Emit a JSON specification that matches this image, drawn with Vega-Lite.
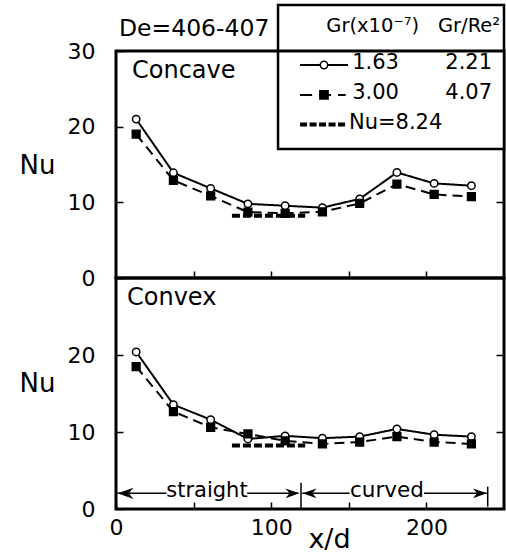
{
  "$schema": "https://vega.github.io/schema/vega-lite/v6.json",
  "padding": {"left": 17, "top": 2, "right": 2, "bottom": 0},
  "spacing": 0,
  "bounds": "flush",
  "config": {
    "font": "DejaVu Sans",
    "concat": {"spacing": 0},
    "view": {"stroke": "black", "strokeWidth": 3},
    "axis": {"domain": false, "grid": false, "tickColor": "black", "tickWidth": 1.5, "labelColor": "black", "titleColor": "black", "labelFontSize": 22, "titleFontWeight": "normal", "labelFlush": false, "labelFont": "DejaVu Sans", "titleFont": "DejaVu Sans"},
    "text": {"color": "black", "font": "DejaVu Sans"}
  },
  "datasets": {
    "concave": [
      {"x": 13, "nu": 21.0, "series": "1.63"}, {"x": 37, "nu": 13.9, "series": "1.63"}, {"x": 61, "nu": 11.85, "series": "1.63"}, {"x": 85, "nu": 9.8, "series": "1.63"}, {"x": 109, "nu": 9.55, "series": "1.63"}, {"x": 133, "nu": 9.3, "series": "1.63"}, {"x": 157, "nu": 10.45, "series": "1.63"}, {"x": 181, "nu": 13.95, "series": "1.63"}, {"x": 205, "nu": 12.5, "series": "1.63"}, {"x": 229, "nu": 12.2, "series": "1.63"},
      {"x": 13, "nu": 19.0, "series": "3.00"}, {"x": 37, "nu": 12.9, "series": "3.00"}, {"x": 61, "nu": 10.85, "series": "3.00"}, {"x": 85, "nu": 8.7, "series": "3.00"}, {"x": 109, "nu": 8.55, "series": "3.00"}, {"x": 133, "nu": 8.75, "series": "3.00"}, {"x": 157, "nu": 9.85, "series": "3.00"}, {"x": 181, "nu": 12.4, "series": "3.00"}, {"x": 205, "nu": 11.05, "series": "3.00"}, {"x": 229, "nu": 10.75, "series": "3.00"}
    ],
    "convex": [
      {"x": 13, "nu": 20.4, "series": "1.63"}, {"x": 37, "nu": 13.55, "series": "1.63"}, {"x": 61, "nu": 11.6, "series": "1.63"}, {"x": 85, "nu": 9.1, "series": "1.63"}, {"x": 109, "nu": 9.5, "series": "1.63"}, {"x": 133, "nu": 9.2, "series": "1.63"}, {"x": 157, "nu": 9.4, "series": "1.63"}, {"x": 181, "nu": 10.4, "series": "1.63"}, {"x": 205, "nu": 9.65, "series": "1.63"}, {"x": 229, "nu": 9.4, "series": "1.63"},
      {"x": 13, "nu": 18.5, "series": "3.00"}, {"x": 37, "nu": 12.65, "series": "3.00"}, {"x": 61, "nu": 10.6, "series": "3.00"}, {"x": 85, "nu": 9.75, "series": "3.00"}, {"x": 109, "nu": 8.85, "series": "3.00"}, {"x": 133, "nu": 8.45, "series": "3.00"}, {"x": 157, "nu": 8.7, "series": "3.00"}, {"x": 181, "nu": 9.4, "series": "3.00"}, {"x": 205, "nu": 8.7, "series": "3.00"}, {"x": 229, "nu": 8.45, "series": "3.00"}
    ]
  },
  "vconcat": [
    {
      "width": 388,
      "height": 227,
      "resolve": {"axis": {"y": "independent"}},
      "layer": [
        {
          "data": {"name": "concave"},
          "mark": {"type": "line", "strokeWidth": 2, "color": "black"},
          "encoding": {
            "x": {"field": "x", "type": "quantitative", "scale": {"domain": [0, 250], "nice": false}, "axis": {"orient": "bottom", "values": [50, 100, 150, 200], "labels": false, "title": null, "tickSize": -7}},
            "y": {"field": "nu", "type": "quantitative", "scale": {"domain": [0, 30], "nice": false}, "axis": {"orient": "left", "values": [0, 10, 20, 30], "tickSize": -7, "labelPadding": 28, "title": "Nu", "titleAngle": 0, "titleX": -97, "titleY": 114, "titleAlign": "left", "titleBaseline": "middle", "titleFontSize": 26}},
            "strokeDash": {"field": "series", "type": "nominal", "scale": {"domain": ["1.63", "3.00"], "range": [[1, 0], [10, 6]]}, "legend": null}
          }
        },
        {
          "data": {"name": "concave"},
          "mark": {"type": "point", "filled": true, "stroke": "black", "strokeWidth": 1.5, "opacity": 1},
          "encoding": {
            "x": {"field": "x", "type": "quantitative"},
            "y": {"field": "nu", "type": "quantitative", "axis": null},
            "shape": {"field": "series", "type": "nominal", "scale": {"domain": ["1.63", "3.00"], "range": ["circle", "square"]}, "legend": null},
            "fill": {"field": "series", "type": "nominal", "scale": {"domain": ["1.63", "3.00"], "range": ["white", "black"]}, "legend": null},
            "size": {"field": "series", "type": "nominal", "scale": {"domain": ["1.63", "3.00"], "range": [55, 60]}, "legend": null}
          }
        },
        {
          "data": {"values": [{}]},
          "mark": {"type": "rule", "strokeWidth": 4, "strokeDash": [8, 3], "color": "black"},
          "encoding": {
            "x": {"datum": 74.7},
            "x2": {"datum": 121.9},
            "y": {"datum": 8.24, "type": "quantitative", "axis": {"orient": "right", "values": [10, 20], "labels": false, "title": null, "tickSize": -8, "minExtent": 0}}
          }
        },
        {
          "data": {"values": [{}]},
          "mark": {"type": "text", "text": "Concave", "fontSize": 24, "align": "left", "baseline": "middle"},
          "encoding": {"x": {"datum": 10.3}, "y": {"datum": 27.4, "axis": null}}
        },
        {
          "data": {"values": [{}]},
          "mark": {"type": "text", "text": "De=406-407", "fontSize": 23.5, "align": "left", "baseline": "middle"},
          "encoding": {"x": {"datum": 1.9}, "y": {"datum": 32.95, "axis": null}}
        },
        {
          "data": {"values": [{}]},
          "mark": {"type": "rect", "fill": "white", "stroke": "black", "strokeWidth": 2.5},
          "encoding": {"x": {"datum": 104.4}, "x2": {"datum": 250}, "y": {"datum": 17.05, "axis": null}, "y2": {"datum": 36.08}}
        },
        {
          "data": {"values": [{}]},
          "mark": {"type": "rule", "strokeWidth": 3, "color": "black"},
          "encoding": {"x": {"datum": 104.4}, "x2": {"datum": 250}, "y": {"datum": 30, "axis": null}}
        },
        {
          "data": {"values": [{}]},
          "mark": {"type": "rule", "strokeWidth": 2, "color": "black"},
          "encoding": {"x": {"datum": 118.6}, "x2": {"datum": 149.5}, "y": {"datum": 28.15, "axis": null}}
        },
        {
          "data": {"values": [{}]},
          "mark": {"type": "point", "shape": "circle", "filled": true, "fill": "white", "stroke": "black", "strokeWidth": 1.5, "size": 55, "opacity": 1},
          "encoding": {"x": {"datum": 134}, "y": {"datum": 28.15, "axis": null}}
        },
        {
          "data": {"values": [{}]},
          "mark": {"type": "rule", "strokeWidth": 2, "strokeDash": [12, 7], "color": "black"},
          "encoding": {"x": {"datum": 118.6}, "x2": {"datum": 148}, "y": {"datum": 24.2, "axis": null}}
        },
        {
          "data": {"values": [{}]},
          "mark": {"type": "point", "shape": "square", "filled": true, "fill": "black", "stroke": "black", "size": 60, "opacity": 1},
          "encoding": {"x": {"datum": 134}, "y": {"datum": 24.2, "axis": null}}
        },
        {
          "data": {"values": [{}]},
          "mark": {"type": "rule", "strokeWidth": 4, "strokeDash": [7, 2.5], "color": "black"},
          "encoding": {"x": {"datum": 118.6}, "x2": {"datum": 148.8}, "y": {"datum": 20.3, "axis": null}}
        },
        {
          "data": {"values": [{}]},
          "mark": {"type": "text", "text": "1.63", "fontSize": 21, "align": "right", "baseline": "middle"},
          "encoding": {"x": {"datum": 182.3}, "y": {"datum": 28.4, "axis": null}}
        },
        {
          "data": {"values": [{}]},
          "mark": {"type": "text", "text": "3.00", "fontSize": 21, "align": "right", "baseline": "middle"},
          "encoding": {"x": {"datum": 182.3}, "y": {"datum": 24.4, "axis": null}}
        },
        {
          "data": {"values": [{}]},
          "mark": {"type": "text", "text": "2.21", "fontSize": 21, "align": "right", "baseline": "middle"},
          "encoding": {"x": {"datum": 242.3}, "y": {"datum": 28.4, "axis": null}}
        },
        {
          "data": {"values": [{}]},
          "mark": {"type": "text", "text": "4.07", "fontSize": 21, "align": "right", "baseline": "middle"},
          "encoding": {"x": {"datum": 242.3}, "y": {"datum": 24.4, "axis": null}}
        },
        {
          "data": {"values": [{}]},
          "mark": {"type": "text", "text": "Nu=8.24", "fontSize": 21, "align": "left", "baseline": "middle"},
          "encoding": {"x": {"datum": 150.1}, "y": {"datum": 20.45, "axis": null}}
        },
        {
          "data": {"values": [{}]},
          "mark": {"type": "text", "text": "Gr(x10⁻⁷)", "fontSize": 19.5, "align": "left", "baseline": "middle"},
          "encoding": {"x": {"datum": 135.5}, "y": {"datum": 33.3, "axis": null}}
        },
        {
          "data": {"values": [{}]},
          "mark": {"type": "text", "text": "Gr/Re²", "fontSize": 19.5, "align": "right", "baseline": "middle"},
          "encoding": {"x": {"datum": 247.5}, "y": {"datum": 33.3, "axis": null}}
        }
      ]
    },
    {
      "width": 388,
      "height": 231,
      "resolve": {"axis": {"y": "independent"}},
      "layer": [
        {
          "data": {"name": "convex"},
          "mark": {"type": "line", "strokeWidth": 2, "color": "black"},
          "encoding": {
            "x": {"field": "x", "type": "quantitative", "scale": {"domain": [0, 250], "nice": false}, "axis": {"orient": "bottom", "values": [0, 50, 100, 150, 200], "labelExpr": "datum.value % 100 === 0 ? datum.label : ''", "tickSize": -7, "labelPadding": 15, "title": "x/d", "titleX": 213, "titleY": 38, "titleAlign": "center", "titleBaseline": "alphabetic", "titleFontSize": 27}},
            "y": {"field": "nu", "type": "quantitative", "scale": {"domain": [0, 30], "nice": false}, "axis": {"orient": "left", "values": [0, 10, 20], "tickSize": -7, "labelPadding": 28, "title": "Nu", "titleAngle": 0, "titleX": -97, "titleY": 105, "titleAlign": "left", "titleBaseline": "middle", "titleFontSize": 26}},
            "strokeDash": {"field": "series", "type": "nominal", "scale": {"domain": ["1.63", "3.00"], "range": [[1, 0], [10, 6]]}, "legend": null}
          }
        },
        {
          "data": {"name": "convex"},
          "mark": {"type": "point", "filled": true, "stroke": "black", "strokeWidth": 1.5, "opacity": 1},
          "encoding": {
            "x": {"field": "x", "type": "quantitative"},
            "y": {"field": "nu", "type": "quantitative", "axis": null},
            "shape": {"field": "series", "type": "nominal", "scale": {"domain": ["1.63", "3.00"], "range": ["circle", "square"]}, "legend": null},
            "fill": {"field": "series", "type": "nominal", "scale": {"domain": ["1.63", "3.00"], "range": ["white", "black"]}, "legend": null},
            "size": {"field": "series", "type": "nominal", "scale": {"domain": ["1.63", "3.00"], "range": [55, 60]}, "legend": null}
          }
        },
        {
          "data": {"values": [{}]},
          "mark": {"type": "rule", "strokeWidth": 4, "strokeDash": [8, 3], "color": "black"},
          "encoding": {
            "x": {"datum": 74.7},
            "x2": {"datum": 121.9},
            "y": {"datum": 8.24, "type": "quantitative", "axis": {"orient": "right", "values": [10, 20], "labels": false, "title": null, "tickSize": -8, "minExtent": 0}}
          }
        },
        {
          "data": {"values": [{}]},
          "mark": {"type": "text", "text": "Convex", "fontSize": 24, "align": "left", "baseline": "middle"},
          "encoding": {"x": {"datum": 7.1}, "y": {"datum": 27.36, "axis": null}}
        },
        {
          "data": {"values": [{}]},
          "mark": {"type": "text", "text": "straight", "fontSize": 21, "align": "center", "baseline": "middle"},
          "encoding": {"x": {"datum": 58.6}, "y": {"datum": 2.4, "axis": null}}
        },
        {
          "data": {"values": [{}]},
          "mark": {"type": "text", "text": "curved", "fontSize": 21.5, "align": "center", "baseline": "middle"},
          "encoding": {"x": {"datum": 174.6}, "y": {"datum": 2.4, "axis": null}}
        },
        {
          "data": {"values": [{}]},
          "mark": {"type": "rule", "strokeWidth": 1.5, "color": "black"},
          "encoding": {"x": {"datum": 1}, "x2": {"datum": 32.5}, "y": {"datum": 2.04, "axis": null}}
        },
        {
          "data": {"values": [{}]},
          "mark": {"type": "rule", "strokeWidth": 1.5, "color": "black"},
          "encoding": {"x": {"datum": 84.5}, "x2": {"datum": 117.5}, "y": {"datum": 2.04, "axis": null}}
        },
        {
          "data": {"values": [{}]},
          "mark": {"type": "rule", "strokeWidth": 1.5, "color": "black"},
          "encoding": {"x": {"datum": 120}, "x2": {"datum": 150.5}, "y": {"datum": 2.04, "axis": null}}
        },
        {
          "data": {"values": [{}]},
          "mark": {"type": "rule", "strokeWidth": 1.5, "color": "black"},
          "encoding": {"x": {"datum": 198.5}, "x2": {"datum": 239}, "y": {"datum": 2.04, "axis": null}}
        },
        {
          "data": {"values": [{}]},
          "mark": {"type": "rule", "strokeWidth": 1.5, "color": "black"},
          "encoding": {"x": {"datum": 119.2}, "y": {"datum": 0, "axis": null}, "y2": {"datum": 3.4}}
        },
        {
          "data": {"values": [{}]},
          "mark": {"type": "rule", "strokeWidth": 1.5, "color": "black"},
          "encoding": {"x": {"datum": 239.5}, "y": {"datum": 0.3, "axis": null}, "y2": {"datum": 2.9}}
        },
        {
          "data": {"values": [{}]},
          "mark": {"type": "point", "shape": "M0,0L2,-0.7L1.4,0L2,0.7Z", "size": 256, "filled": true, "fill": "black", "strokeWidth": 0, "opacity": 1},
          "encoding": {"x": {"datum": 1}, "y": {"datum": 2.04, "axis": null}}
        },
        {
          "data": {"values": [{}]},
          "mark": {"type": "point", "shape": "M0,0L-2,-0.7L-1.4,0L-2,0.7Z", "size": 196, "filled": true, "fill": "black", "strokeWidth": 0, "opacity": 1},
          "encoding": {"x": {"datum": 118.2}, "y": {"datum": 2.04, "axis": null}}
        },
        {
          "data": {"values": [{}]},
          "mark": {"type": "point", "shape": "M0,0L2,-0.7L1.4,0L2,0.7Z", "size": 196, "filled": true, "fill": "black", "strokeWidth": 0, "opacity": 1},
          "encoding": {"x": {"datum": 120.2}, "y": {"datum": 2.04, "axis": null}}
        },
        {
          "data": {"values": [{}]},
          "mark": {"type": "point", "shape": "M0,0L-2,-0.7L-1.4,0L-2,0.7Z", "size": 196, "filled": true, "fill": "black", "strokeWidth": 0, "opacity": 1},
          "encoding": {"x": {"datum": 239}, "y": {"datum": 2.04, "axis": null}}
        }
      ]
    }
  ]
}
